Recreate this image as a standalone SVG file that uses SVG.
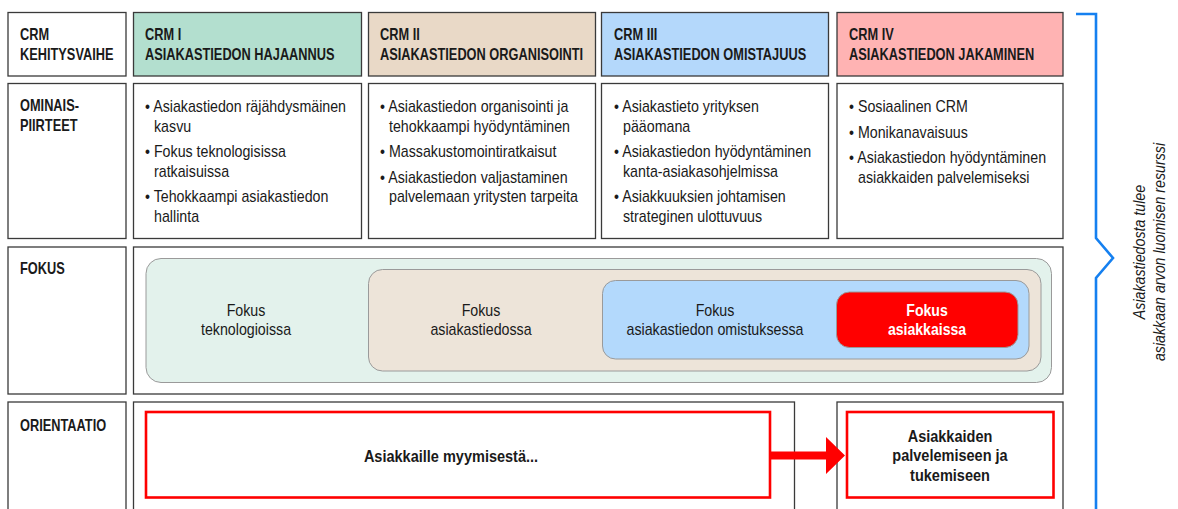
<svg xmlns="http://www.w3.org/2000/svg" width="1178" height="509" viewBox="0 0 1178 509">
<style>
  .box { fill: #ffffff; stroke: #3a3a3a; stroke-width: 1.3; }
  .h { font-family: "Liberation Sans", Arial, sans-serif; font-weight: bold; font-size: 16.5px; fill: #1a1a1a; }
  .t { font-family: "Liberation Sans", Arial, sans-serif; font-size: 16px; fill: #1a1a1a; }
  .tc { font-family: "Liberation Sans", Arial, sans-serif; font-size: 16px; fill: #1a1a1a; text-anchor: middle; }
  .bc { font-family: "Liberation Sans", Arial, sans-serif; font-weight: bold; font-size: 16.5px; fill: #1a1a1a; text-anchor: middle; }
  .wc { font-family: "Liberation Sans", Arial, sans-serif; font-weight: bold; font-size: 16px; fill: #ffffff; text-anchor: middle; }
  .it { font-family: "Liberation Sans", Arial, sans-serif; font-style: italic; font-size: 16px; fill: #1a1a1a; text-anchor: middle; }
  .fk { stroke: #9a9a9a; stroke-width: 1; }
  .redbox { fill: #ffffff; stroke: #ff0000; stroke-width: 2.6; }
</style>

<!-- Row 0: header -->
<g id="hdr-label">
  <rect class="box" x="8" y="12.5" width="118" height="63.5"/>
  <text class="h" transform="translate(20,39.5) scale(0.775,1)">CRM<tspan x="0" y="20.5">KEHITYSVAIHE</tspan></text>
</g>
<g id="hdr-crm1">
  <rect class="box" x="133.5" y="12.5" width="228" height="63.5" fill="#b3dfcf" style="fill:#b3dfcf"/>
  <text class="h" transform="translate(145,39.5) scale(0.775,1)">CRM I<tspan x="0" y="20.5">ASIAKASTIEDON HAJAANNUS</tspan></text>
</g>
<g id="hdr-crm2">
  <rect class="box" x="368.5" y="12.5" width="227" height="63.5" style="fill:#e9d9c7"/>
  <text class="h" transform="translate(380,39.5) scale(0.775,1)">CRM II<tspan x="0" y="20.5">ASIAKASTIEDON ORGANISOINTI</tspan></text>
</g>
<g id="hdr-crm3">
  <rect class="box" x="601.5" y="12.5" width="227" height="63.5" style="fill:#b4d8fb"/>
  <text class="h" transform="translate(614,39.5) scale(0.775,1)">CRM III<tspan x="0" y="20.5">ASIAKASTIEDON OMISTAJUUS</tspan></text>
</g>
<g id="hdr-crm4">
  <rect class="box" x="837" y="12.5" width="226" height="63.5" style="fill:#ffb3b3"/>
  <text class="h" transform="translate(849,39.5) scale(0.775,1)">CRM IV<tspan x="0" y="20.5">ASIAKASTIEDON JAKAMINEN</tspan></text>
</g>

<!-- Row 1: features -->
<g id="feat-label">
  <rect class="box" x="8" y="83.5" width="118" height="155"/>
  <text class="h" transform="translate(20,110.5) scale(0.775,1)">OMINAIS-<tspan x="0" y="20.5">PIIRTEET</tspan></text>
</g>
<g id="feat-crm1">
  <rect class="box" x="133.5" y="83.5" width="228" height="155"/>
  <text class="t" transform="translate(145,112) scale(0.89,1)">• Asiakastiedon räjähdysmäinen</text>
  <text class="t" transform="translate(154,131.5) scale(0.89,1)">kasvu</text>
  <text class="t" transform="translate(145,157) scale(0.89,1)">• Fokus teknologisissa</text>
  <text class="t" transform="translate(154,176.5) scale(0.89,1)">ratkaisuissa</text>
  <text class="t" transform="translate(145,202) scale(0.89,1)">• Tehokkaampi asiakastiedon</text>
  <text class="t" transform="translate(154,221.5) scale(0.89,1)">hallinta</text>
</g>
<g id="feat-crm2">
  <rect class="box" x="368.5" y="83.5" width="227" height="155"/>
  <text class="t" transform="translate(380,112) scale(0.89,1)">• Asiakastiedon organisointi ja</text>
  <text class="t" transform="translate(389,131.5) scale(0.89,1)">tehokkaampi hyödyntäminen</text>
  <text class="t" transform="translate(380,157) scale(0.89,1)">• Massakustomointiratkaisut</text>
  <text class="t" transform="translate(380,182.5) scale(0.89,1)">• Asiakastiedon valjastaminen</text>
  <text class="t" transform="translate(389,202) scale(0.89,1)">palvelemaan yritysten tarpeita</text>
</g>
<g id="feat-crm3">
  <rect class="box" x="601.5" y="83.5" width="227" height="155"/>
  <text class="t" transform="translate(614,112) scale(0.89,1)">• Asiakastieto yrityksen</text>
  <text class="t" transform="translate(623,131.5) scale(0.89,1)">pääomana</text>
  <text class="t" transform="translate(614,157) scale(0.89,1)">• Asiakastiedon hyödyntäminen</text>
  <text class="t" transform="translate(623,176.5) scale(0.89,1)">kanta-asiakasohjelmissa</text>
  <text class="t" transform="translate(614,202) scale(0.89,1)">• Asiakkuuksien johtamisen</text>
  <text class="t" transform="translate(623,221.5) scale(0.89,1)">strateginen ulottuvuus</text>
</g>
<g id="feat-crm4">
  <rect class="box" x="837" y="83.5" width="226" height="155"/>
  <text class="t" transform="translate(849,112) scale(0.89,1)">• Sosiaalinen CRM</text>
  <text class="t" transform="translate(849,137.5) scale(0.89,1)">• Monikanavaisuus</text>
  <text class="t" transform="translate(849,163) scale(0.89,1)">• Asiakastiedon hyödyntäminen</text>
  <text class="t" transform="translate(858,182.5) scale(0.89,1)">asiakkaiden palvelemiseksi</text>
</g>

<!-- Row 2: focus -->
<g id="focus-label">
  <rect class="box" x="8" y="247" width="118" height="147"/>
  <text class="h" transform="translate(20,274) scale(0.775,1)">FOKUS</text>
</g>
<g id="focus-area">
  <rect class="box" x="133.5" y="247" width="929.5" height="147"/>
</g>
<g id="focus-tech">
  <rect class="fk" x="146" y="258.5" width="905.5" height="124" rx="15" fill="#e3f2ec"/>
  <text class="tc" transform="translate(246,316) scale(0.89,1)">Fokus<tspan x="0" y="19.5">teknologioissa</tspan></text>
</g>
<g id="focus-data">
  <rect class="fk" x="368.5" y="269.5" width="672.5" height="101.5" rx="14" fill="#ede4d9"/>
  <text class="tc" transform="translate(481,316) scale(0.89,1)">Fokus<tspan x="0" y="19.5">asiakastiedossa</tspan></text>
</g>
<g id="focus-ownership">
  <rect class="fk" x="602.5" y="280.5" width="426.5" height="78.5" rx="13" fill="#b3d9fc"/>
  <text class="tc" transform="translate(715,316) scale(0.89,1)">Fokus<tspan x="0" y="19.5">asiakastiedon omistuksessa</tspan></text>
</g>
<g id="focus-customers">
  <rect class="fk" x="836.5" y="292" width="181.5" height="55.5" rx="13" fill="#ff0000"/>
  <text class="wc" transform="translate(927,316) scale(0.88,1)">Fokus<tspan x="0" y="19.5">asiakkaissa</tspan></text>
</g>

<!-- Row 3: orientation -->
<g id="orient-label">
  <rect class="box" x="8" y="402" width="118" height="115"/>
  <text class="h" transform="translate(20,430.5) scale(0.775,1)">ORIENTAATIO</text>
</g>
<g id="orient-selling">
  <rect class="box" x="133.5" y="402" width="661" height="115"/>
  <rect class="redbox" x="146" y="412" width="624" height="85.5"/>
  <text class="bc" transform="translate(451,461.5) scale(0.88,1)">Asiakkaille myymisestä...</text>
</g>
<g id="orient-serving">
  <rect class="box" x="837" y="402" width="226" height="115"/>
  <rect class="redbox" x="847" y="412" width="206.5" height="85.5"/>
  <text class="bc" transform="translate(950,441.5) scale(0.88,1)">Asiakkaiden<tspan x="0" y="20">palvelemiseen ja</tspan><tspan x="0" y="40">tukemiseen</tspan></text>
</g>

<!-- Connectors -->
<g id="connectors">
  <polygon points="771,451.5 826,451.5 826,437 845,455.5 826,474 826,459.5 771,459.5" fill="#ff0000"/>
</g>

<!-- Bracket annotation -->
<g id="bracket">
  <path d="M1076,14 H1096 V238 L1113,258 L1096,278 V512" fill="none" stroke="#1580f0" stroke-width="2.6" stroke-linejoin="miter"/>
  <text class="it" transform="translate(1145,252) rotate(-90) scale(0.89,1)">Asiakastiedosta tulee</text>
  <text class="it" transform="translate(1165,252) rotate(-90) scale(0.89,1)">asiakkaan arvon luomisen resurssi</text>
</g>
</svg>
